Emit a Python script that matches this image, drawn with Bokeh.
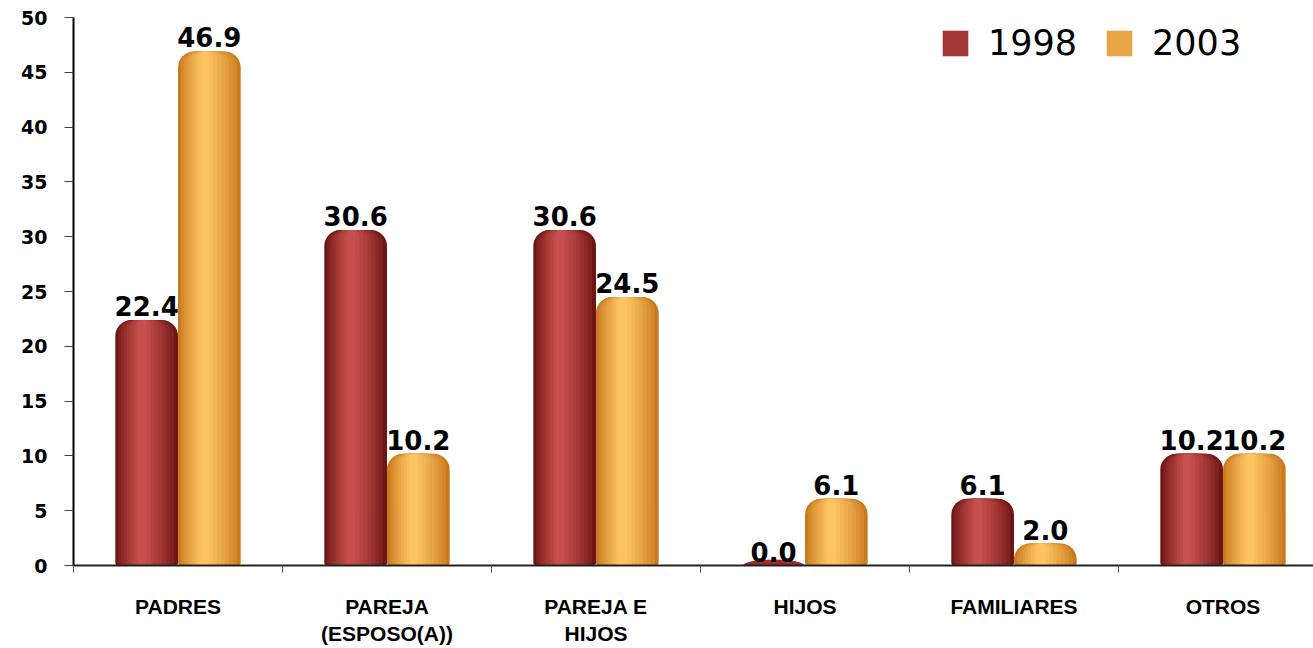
import numpy as np
from bokeh.plotting import figure
from bokeh.models import ColumnDataSource, FixedTicker, Legend, LegendItem, Range1d
from bokeh.embed import file_html
from bokeh.resources import INLINE
from bokeh.core.properties import value

# ---- data ----
categories = ["PADRES", "PAREJA\n(ESPOSO(A))", "PAREJA E\nHIJOS", "HIJOS", "FAMILIARES", "OTROS"]
years = ["1998", "2003"]
values_1998 = [22.4, 30.6, 30.6, 0.0, 6.1, 10.2]
values_2003 = [46.9, 10.2, 24.5, 6.1, 2.0, 10.2]
y_ticks = [0, 5, 10, 15, 20, 25, 30, 35, 40, 45, 50]

# ---- styles ----
W, H = 1313, 648
LEFT, TOP, BOTTOM = 73, 17, 82
PX_PER_CAT = 209.0
bar_w = 0.30
offsets = [-0.15, 0.15]
edge_col = {"1998": (0x6E, 0x16, 0x14), "2003": (0xC9, 0x7A, 0x1E)}
high_col = {"1998": (0xC8, 0x50, 0x4C), "2003": (0xFF, 0xC4, 0x62)}
mid_col = {"1998": "#A02A28", "2003": "#F2A038"}
NL = 9


def mix(a, b, t):
    return "#%02X%02X%02X" % tuple(int(round(a[i] + (b[i] - a[i]) * t)) for i in range(3))


n = len(categories)
xs = np.arange(n, dtype=float)

p = figure(width=W, height=H, output_backend="svg", toolbar_location=None,
           x_range=Range1d(-0.5, -0.5 + (W - LEFT) / PX_PER_CAT), y_range=Range1d(0, 50),
           min_border_left=LEFT, min_border_right=0, min_border_top=TOP, min_border_bottom=BOTTOM)
p.outline_line_color = None
p.xgrid.visible = False
p.ygrid.visible = False
p.background_fill_color = "white"

legend_renderers = {}
for yr, vals, off in zip(years, [values_1998, values_2003], offsets):
    vals = np.array(vals)
    cx = xs + off
    # base ellipse (cylinder bottom)
    p.ellipse(x=cx, y=np.zeros(n), width=bar_w * 0.98, height=12, height_units="screen",
              fill_color=mid_col[yr], line_color=None)
    for k in range(NL):
        t = k / (NL - 1)
        frac = 1.0 - 0.86 * t
        shift = -0.07 * t
        rad = int(round(16 - 12 * t))
        src = ColumnDataSource(dict(x=cx + shift * bar_w, top=vals))
        r = p.vbar(x="x", top="top", bottom=0, width=bar_w * frac, source=src,
                   fill_color=mix(edge_col[yr], high_col[yr], t ** 0.8), line_color=None,
                   border_radius=(rad, rad, 3, 3))
        if k == NL // 2:
            legend_renderers[yr] = r
    # value labels
    lbl = ColumnDataSource(dict(x=cx, y=vals, t=["%.1f" % v for v in vals]))
    p.text(x="x", y="y", text="t", source=lbl, text_align="center", text_baseline="bottom",
           y_offset=-4, text_font=value("DejaVu Sans"), text_font_style="bold",
           text_font_size="26px", text_color="black")

# y axis
ya = p.yaxis[0]
ya.ticker = FixedTicker(ticks=y_ticks)
ya.major_label_text_font = "DejaVu Sans"
ya.major_label_text_font_style = "bold"
ya.major_label_text_font_size = "19px"
ya.major_label_text_color = "black"
ya.axis_line_width = 2
ya.axis_line_color = "black"
ya.major_tick_out = 9
ya.major_tick_in = 0
ya.major_tick_line_color = "#444444"
ya.minor_tick_out = 0
ya.minor_tick_in = 0
ya.major_label_standoff = 17

# x axis
xa = p.xaxis[0]
xa.ticker = FixedTicker(ticks=list(xs), minor_ticks=list(xs - 0.5))
xa.major_label_overrides = {i: c for i, c in enumerate(categories)}
xa.major_label_text_font = "Liberation Sans"
xa.major_label_text_font_style = "bold"
xa.major_label_text_font_size = "21px"
xa.major_label_text_color = "black"
xa.major_tick_out = 0
xa.major_tick_in = 0
xa.minor_tick_out = 7
xa.minor_tick_in = 0
xa.minor_tick_line_color = "#555555"
xa.axis_line_width = 2
xa.axis_line_color = "#222222"
xa.major_label_standoff = 22

legend = Legend(items=[LegendItem(label=yr, renderers=[legend_renderers[yr]]) for yr in years],
                orientation="horizontal", location=(866, 500),
                label_text_font="DejaVu Sans", label_text_font_size="35px",
                label_text_color="black",
                label_height=44, label_text_baseline="middle",
                glyph_width=32, glyph_height=32, label_standoff=17, spacing=26,
                padding=0, margin=0, border_line_alpha=0, background_fill_alpha=0)
p.add_layout(legend)

open("out.html", "w").write(file_html(p, INLINE))
